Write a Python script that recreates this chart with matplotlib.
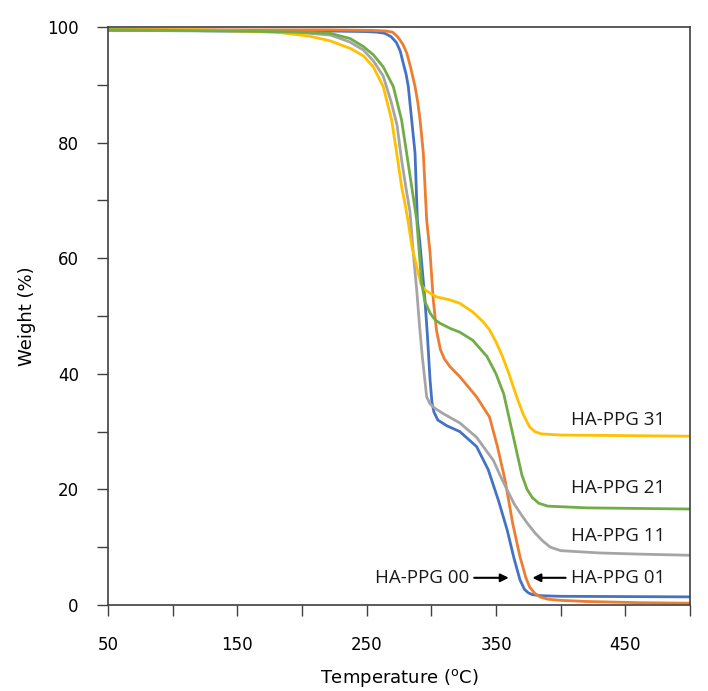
import numpy as np
import matplotlib
matplotlib.use("Agg")
import matplotlib.pyplot as plt

# TGA curves
t_00 = [50, 150, 220, 250, 258, 264, 269, 273, 276, 278.3, 280.5, 282.2, 284.8, 287.4, 289.2, 291,
        293, 295, 297, 299, 300.5, 302, 305, 312, 322, 335, 344, 352, 358.6, 364, 368.6, 372, 375,
        378, 385, 400, 450, 500]
w_00 = [99.4, 99.3, 99.3, 99.2, 99.1, 98.9, 98.3, 97.3, 95.8, 93.7, 91.8, 89.7, 83.9, 78.2, 66.6, 63,
        58, 53, 46.5, 39, 35, 33.4, 32, 31, 30, 27.4, 23.4, 18, 13, 8, 4.3, 2.7, 2.1,
        1.8, 1.6, 1.5, 1.45, 1.4]

t_01 = [50, 150, 220, 255, 265, 270, 274, 278, 281, 284, 287.4, 289.5, 291.3, 293.8, 296.4, 299,
        301.5, 304, 307, 310, 314.5, 322, 335, 345, 351, 357, 363, 368.6, 373, 376, 380, 384, 390,
        400, 420, 460, 500]
w_01 = [99.6, 99.5, 99.5, 99.4, 99.3, 99.1, 98.3, 97, 95.5, 93, 89.7, 87, 83.9, 78.2, 66.6, 61,
        52.8, 47.5, 44.2, 42.6, 41.2, 39.5, 36, 32.5, 27.5, 21.6, 14, 8.3, 4.8, 3.1, 2.0, 1.4, 1.0,
        0.8, 0.6, 0.4, 0.3]

t_11 = [50, 150, 200, 222, 237, 247.5, 255, 262.8, 269, 273.5, 277, 280.5, 283.5, 286, 288.7, 291,
        293, 296.4, 299, 302.9, 310, 322, 335, 348, 353, 358.6, 364, 369, 374, 380, 386, 392, 400,
        430, 460, 500]
w_11 = [99.5, 99.3, 99.0, 98.6, 97.4, 96.0, 94.2, 91.5, 87, 83, 77, 72, 68, 61, 54.5, 48,
        43, 36, 34.8, 34, 33, 31.5, 29, 25, 22.5, 19.9, 17.5, 15.8, 14.2, 12.5, 11.1, 10, 9.4,
        9.0, 8.8, 8.6]

t_21 = [50, 150, 200, 221.7, 237.2, 247.5, 255.1, 262.8, 270.6, 277, 280.9, 284.8, 288.7, 291,
        292.5, 295, 299, 303, 307, 315, 322, 332, 343, 350, 356, 361, 366, 370, 374, 378, 383, 390,
        420, 460, 500]
w_21 = [99.5, 99.3, 99.1, 98.9, 98.0, 96.6, 95.2, 93.1, 89.7, 83.9, 78.2, 72.4, 66.6, 60,
        55.7, 52.5, 50.5, 49.3, 48.7, 47.8, 47.2, 45.8, 43, 40, 36.5, 31.5, 26.5, 22.5, 20, 18.6,
        17.6, 17.1, 16.8, 16.7, 16.6]

t_31 = [50, 121, 180, 206, 221.7, 237.2, 247.5, 255.1, 262.8, 269.3, 273.2, 277, 280, 282.3, 285,
        288.7, 292, 295.2, 300, 304, 314, 322, 332, 340, 345, 350, 355, 360, 366, 371, 376, 380, 385,
        400, 450, 500]
w_31 = [99.5, 99.5, 99.1, 98.4, 97.6, 96.3, 95.0, 93.1, 89.7, 83.9, 78.2, 72.4, 69, 66, 62,
        58.5, 55.5, 54.5, 53.8, 53.3, 52.8, 52.2, 50.7, 49, 47.6, 45.5, 43, 40, 36, 33, 30.8, 30,
        29.6, 29.4, 29.3, 29.2]

series = [
    ("HA-PPG 00", t_00, w_00, "#4472C4"),
    ("HA-PPG 01", t_01, w_01, "#ED7D31"),
    ("HA-PPG 11", t_11, w_11, "#A5A5A5"),
    ("HA-PPG 31", t_31, w_31, "#FFC000"),
    ("HA-PPG 21", t_21, w_21, "#70AD47"),
]

fig = plt.figure(figsize=(7.08, 6.91), dpi=100)
ax = fig.add_axes([0.1525, 0.1245, 0.8221, 0.8365])

for name, t, w, c in series:
    ax.plot(t, w, color=c, lw=2.0, solid_joinstyle="round", solid_capstyle="round")

ax.set_xlim(50, 500)
ax.set_ylim(0, 100)
ax.set_xticks(np.arange(50, 501, 50))
ax.set_xticklabels([str(v) if (v - 50) % 100 == 0 else "" for v in range(50, 501, 50)])
ax.set_yticks(np.arange(0, 101, 10))
ax.set_yticklabels([str(v) if v % 20 == 0 else "" for v in range(0, 101, 10)])
ax.tick_params(direction="out", length=8, width=1, color="#404040",
               labelsize=12, pad=14)
ax.tick_params(axis="y", pad=13)
for s in ax.spines.values():
    s.set_color("#404040")
    s.set_linewidth(1.2)

ax.set_xlabel("Temperature ($^{\\mathrm{o}}$C)", fontsize=13, labelpad=10)
ax.set_ylabel("Weight (%)", fontsize=13, labelpad=8)

lab = dict(fontsize=13.5, family="Open Sans", va="center", color="#1a1a1a")
ax.text(408, 32, "HA-PPG 31", **lab)
ax.text(408, 20.2, "HA-PPG 21", **lab)
ax.text(408, 12, "HA-PPG 11", **lab)
ax.text(408, 4.7, "HA-PPG 01", **lab)
ax.text(329, 4.7, "HA-PPG 00", ha="right", **lab)
ax.annotate("", xy=(362, 4.7), xytext=(331, 4.7),
            arrowprops=dict(arrowstyle="-|>", color="black", lw=1.5, mutation_scale=12))
ax.annotate("", xy=(376, 4.7), xytext=(406, 4.7),
            arrowprops=dict(arrowstyle="-|>", color="black", lw=1.5, mutation_scale=12))

fig.savefig("out.png", dpi=100)
